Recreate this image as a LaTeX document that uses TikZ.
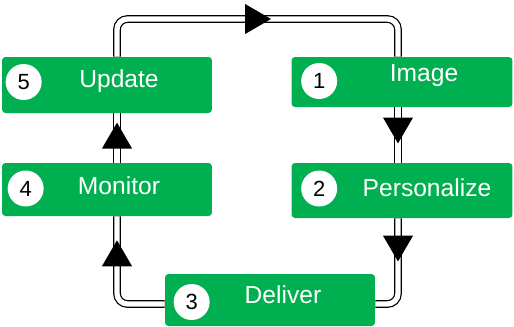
\documentclass[tikz,border=0pt]{standalone}
\usepackage{fontspec}
\setmainfont{Liberation Sans}
\usepackage{xcolor}
\definecolor{stagegreen}{RGB}{0,176,80}
\usetikzlibrary{positioning,calc,decorations.markings,arrows.meta}

\begin{document}
\begin{tikzpicture}[x=0.02cm,y=-0.02cm,
    stage/.style={fill=stagegreen,rounded corners=2pt,minimum width=4.2cm,minimum height=1.06cm,inner sep=0pt},
    caption/.style={text=white,font=\fontsize{14}{16}\selectfont},
    num/.style={circle,fill=white,minimum size=0.72cm,inner sep=0pt,font=\fontsize{12.5}{14}\selectfont},
    link/.style={draw=black,double=white,line width=0.7pt,double distance=3pt,rounded corners=6pt},
    midarrow/.style={postaction={decorate,decoration={markings,
        mark=at position #1 with {\pgfsetinnerlinewidth{0pt}\arrow{Triangle[width=16pt,length=15pt]}}}}}]
    \useasboundingbox (0,0) rectangle (514,326);

    % Stages
    \node[stage,minimum height=1.12cm] (upd) at (107,85) {};
    \node[stage] (mon) at (107,189.5) {};
    \node[stage,minimum width=4.42cm,minimum height=1cm] (img) at (402,82) {};
    \node[stage,minimum width=4.42cm,minimum height=1.1cm] (per) at (402,190.5) {};
    \node[stage,minimum height=1.04cm] (del) at (270,300) {};

    \node[caption] (updtxt) at ($(upd)+(12,-4)$) {Update};
    \node[caption] (montxt) at ($(mon)+(12,-4)$) {Monitor};
    \node[caption] (imgtxt) at ($(img)+(22,-6)$) {Image};
    \node[caption] (pertxt) at ($(per)+(25,-3)$) {Personalize};
    \node[caption] (deltxt) at ($(del)+(13,-5)$) {Deliver};

    \node[num] (n5) at ($(upd.west)+(22,-3)$) {5};
    \node[num] (n4) at ($(mon.west)+(24,-1)$) {4};
    \node[num] (n1) at ($(img.west)+(28,-1)$) {1};
    \node[num] (n2) at ($(per.west)+(28,-2)$) {2};
    \node[num] (n3) at ($(del.west)+(27,2)$) {3};

    % Links
    \coordinate (lx) at (117,0);
    \coordinate (rx) at (398,0);
    \coordinate (top) at (0,19);
    \coordinate (bot) at (0,304);

    \draw[link,midarrow=0.54] (upd.north -| lx) |- (top -| rx) -- (img.north -| rx);
    \draw[link,midarrow=0.66] (img.south -| rx) -- (per.north -| rx);
    \draw[link,midarrow=0.42] (per.south -| rx) |- (del.east |- bot);
    \draw[link,midarrow=0.82] (del.west |- bot) -| (mon.south -| lx);
    \draw[link,midarrow=0.82] (mon.north -| lx) -- (upd.south -| lx);
\end{tikzpicture}
\end{document}
